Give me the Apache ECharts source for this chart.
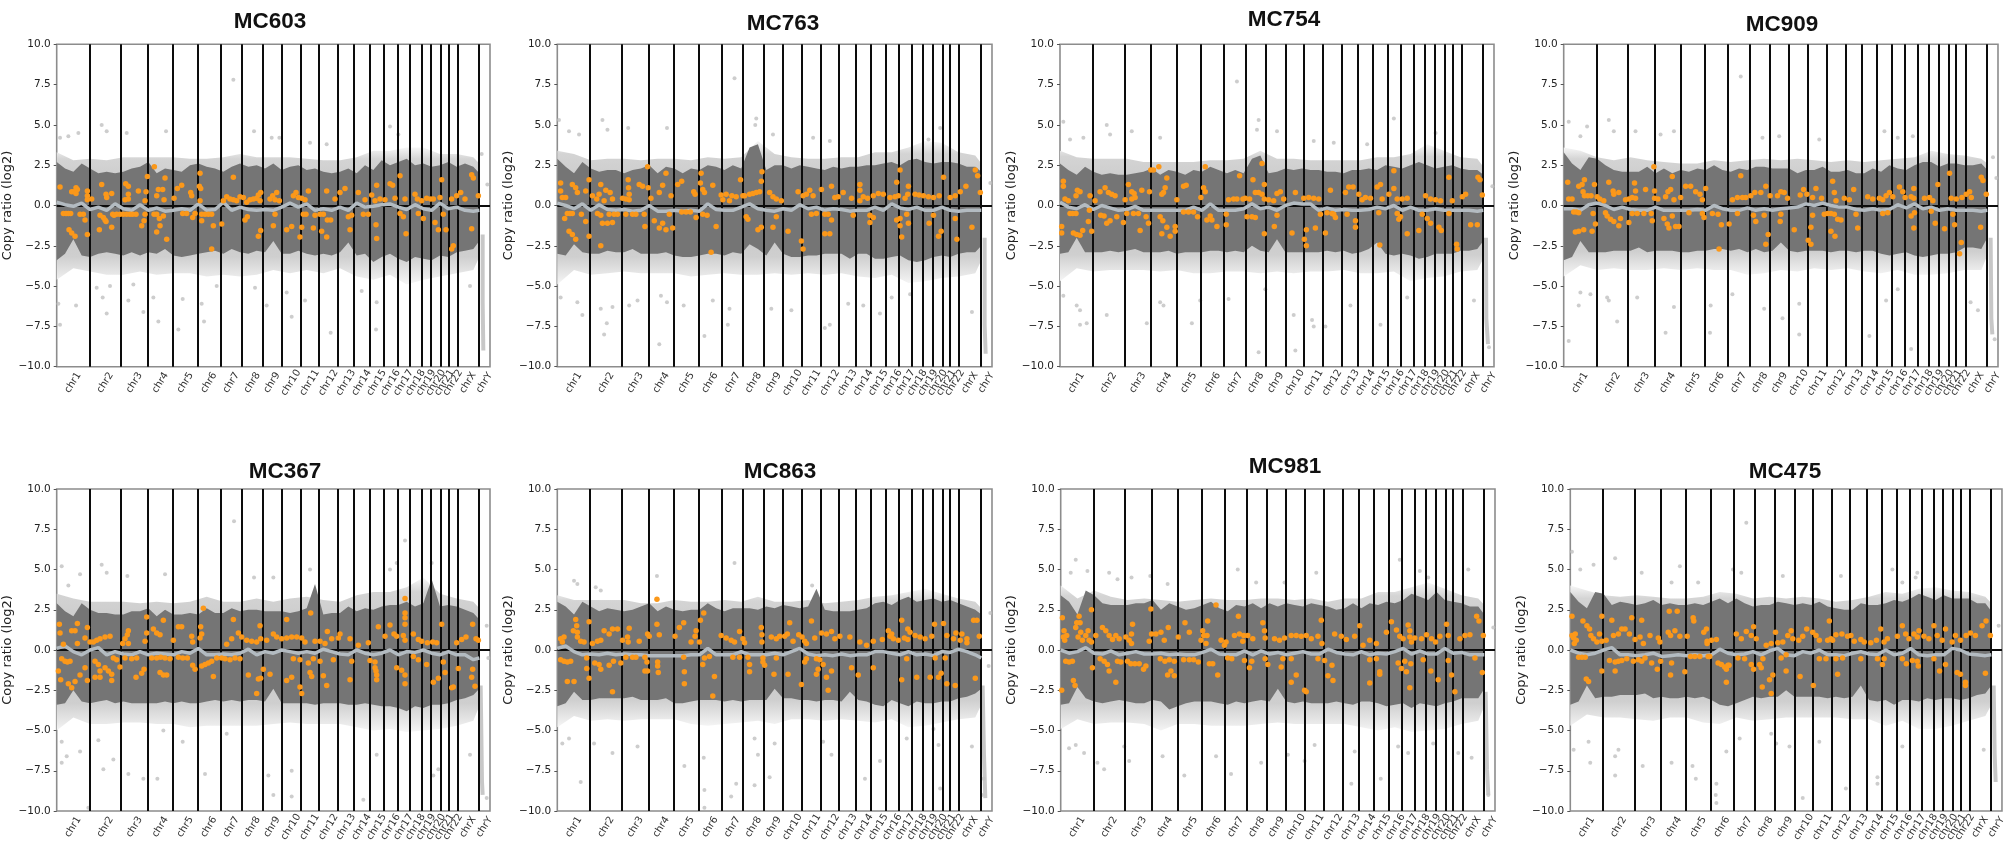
<!DOCTYPE html>
<html>
<head>
<meta charset="utf-8">
<title>Copy ratio panels</title>
<script src="https://cdn.jsdelivr.net/npm/echarts@6/dist/echarts.min.js"></script>
<style>
  html, body { margin: 0; background: #fff; }
  #chart { width: 2008px; height: 851px; filter: blur(0.45px); }
</style>
</head>
<body>
<div id="chart"></div>
<script>
// x axis is the squeezed genome position of the plots, 0..1300 across a panel
const chromNames = ['chr1','chr2','chr3','chr4','chr5','chr6','chr7','chr8','chr9','chr10','chr11','chr12','chr13','chr14','chr15','chr16','chr17','chr18','chr19','chr20','chr21','chr22','chrX','chrY']
const chromEnds = [98,193,273,349,422,491,556,617,675,731,787,843,892,938,982,1022,1059,1094,1123,1152,1175,1202,1266,1300]
const yTicks = [-10,-7.5,-5,-2.5,0,2.5,5,7.5,10]
// envelope sample positions
const binX = [0,25,50,75,100,125,150,175,200,225,250,275,300,325,350,375,400,425,450,475,500,525,550,575,600,625,650,675,700,725,750,775,800,825,850,875,900,925,950,975,1000,1025,1050,1075,1100,1125,1150,1175,1200,1225,1250,1268]
const haloX = [0,50,100,150,200,250,300,350,400,450,500,550,600,650,700,750,800,850,900,950,1000,1050,1100,1150,1200,1250,1268]

const mc603Upper = [2.7,2.3,2.1,2.6,2.3,2.0,2.1,2.0,2.1,2.3,2.4,2.7,2.0,2.3,2.2,2.1,2.5,2.6,2.4,2.3,2.1,2.4,2.6,2.4,2.5,2.3,2.6,2.2,2.4,2.5,2.2,2.3,2.1,2.0,2.1,2.3,2.0,2.5,2.2,2.8,2.5,2.7,2.9,2.5,2.6,2.4,2.5,2.7,2.4,2.6,2.4,2.0]
const mc603Lower = [-3.4,-3.0,-2.1,-3.1,-3.2,-3.0,-2.9,-3.0,-3.1,-2.9,-3.1,-2.9,-3.0,-2.7,-3.1,-3.2,-3.1,-3.0,-2.9,-2.8,-3.0,-2.7,-2.9,-3.0,-2.8,-2.9,-2.2,-3.0,-3.0,-2.8,-3.0,-3.1,-3.0,-3.1,-2.9,-2.3,-3.1,-3.0,-3.5,-3.2,-3.0,-3.3,-3.5,-3.2,-3.3,-3.4,-3.1,-3.2,-2.9,-2.8,-2.7,-2.2]
const mc603HaloUp = [3.3,2.8,2.9,2.8,3.0,3.0,3.0,3.0,2.9,2.9,3.0,3.2,3.0,3.0,3.0,2.9,2.8,2.8,3.0,3.4,3.4,3.6,3.6,3.2,3.2,3.0,2.6]
const mc603HaloLow = [-4.6,-3.9,-4.1,-4.3,-4.3,-4.1,-4.3,-4.2,-4.2,-4.4,-4.3,-4.4,-4.3,-4.0,-4.2,-4.0,-4.2,-3.9,-4.4,-4.6,-4.3,-4.9,-4.6,-4.4,-4.2,-4.0,-3.2]
const mc603Seg = [0.2,0.05,-0.05,0.15,-0.25,-0.1,-0.3,0.1,-0.2,-0.3,0.05,-0.3,-0.15,-0.35,-0.3,-0.2,-0.3,0.1,-0.3,-0.25,0.2,-0.3,-0.1,-0.25,-0.3,-0.25,-0.3,-0.1,0.15,-0.1,0.1,-0.3,-0.2,-0.3,-0.1,-0.3,0.15,-0.1,-0.05,0.05,0.1,-0.1,-0.25,0.05,-0.2,-0.3,0.15,-0.2,-0.1,-0.3,-0.35,-0.3]
const mc603Faint = [[35,4.3],[65,4.5],[10,4.2],[135,5.0],[150,4.6],[210,4.5],[328,4.6],[530,7.8],[592,4.6],[645,4.2],[668,4.2],[1000,4.9],[1025,4.4],[810,3.8],[760,3.9],[10,-7.4],[5,-6.1],[58,-6.2],[150,-6.7],[138,-5.7],[215,-5.9],[260,-6.6],[290,-5.7],[305,-7.2],[365,-7.7],[378,-5.8],[435,-6.1],[442,-7.2],[595,-5.1],[630,-6.2],[705,-6.9],[745,-5.9],[822,-7.9],[958,-7.7],[960,-6.0],[915,-5.3],[1240,-5.0],[1275,3.2],[1292,1.3],[120,-5.1],[160,-5.0],[230,-4.9],[480,-5.0],[690,-5.4]]
const mc603Orange = [[10,1.15],[20,-.5],[28,-.5],[35,-.5],[42,-.5],[37,-1.5],[45,-1.7],[55,-1.9],[45,.85],[52,.85],[58,.75],[62,1],[58,1.1],[70,-.55],[80,-.55],[85,-.9],[92,.9],[92,.6],[92,.35],[92,-1.8],[105,.4],[130,-.6],[135,1.3],[140,-.75],[145,-.9],[148,.7],[150,.5],[148,-1.0],[128,-1.5],[165,.75],[165,-1.35],[168,-.55],[172,-.6],[180,-.55],[190,-.55],[207,1.35],[215,1.2],[215,.7],[215,.4],[205,.35],[200,-.55],[210,-.55],[220,-.55],[228,-.55],[238,-.55],[245,.9],[255,-1.25],[262,-.95],[265,-.55],[268,.85],[272,1.8],[265,.3],[293,2.4],[300,.6],[305,1.0],[318,1.0],[325,1.7],[322,.35],[292,-.55],[300,-.55],[308,-.8],[320,-.65],[300,-1.65],[310,-1.25],[330,-2.1],[352,.45],[362,1.05],[375,1.25],[378,-.5],[390,-.5],[402,.8],[405,.6],[408,-.75],[415,-.5],[430,2.0],[428,1.2],[432,1.05],[430,.3],[435,-.55],[445,-.55],[435,-.95],[455,-.55],[465,-.55],[470,-1.25],[465,-2.7],[495,-1.15],[500,.3],[510,.55],[520,.4],[530,1.75],[530,.35],[540,.3],[550,.55],[560,.5],[570,.2],[580,.35],[590,.4],[600,.45],[605,.65],[612,.8],[610,.3],[565,-.9],[572,-.7],[605,-1.9],[612,-1.55],[640,.4],[648,.6],[655,.35],[660,.8],[668,.3],[655,-.55],[650,-1.25],[690,-1.5],[705,-1.3],[710,.6],[718,.8],[725,.5],[735,.45],[740,-.55],[748,-.55],[730,-1.95],[735,-1.35],[745,.35],[755,.9],[770,-1.4],[775,-.6],[790,-.55],[800,-.55],[812,-.9],[822,-.9],[795,-1.6],[810,-1.95],[810,.9],[835,.4],[850,.8],[865,1.05],[875,-.7],[885,-.6],[880,-1.5],[905,.8],[925,.35],[920,-.55],[935,-.55],[945,.65],[955,.3],[958,-1.2],[960,-2.05],[960,1.25],[970,.4],[985,.35],[1000,1.35],[1008,1.25],[1015,.45],[1030,1.85],[1030,-.5],[1045,.4],[1040,-.7],[1048,-1.75],[1075,.7],[1082,.4],[1095,.3],[1085,-.5],[1100,-.8],[1110,.45],[1122,.4],[1130,.4],[1135,-1.05],[1145,-1.5],[1155,1.6],[1150,.5],[1160,-.55],[1168,-1.5],[1185,-2.7],[1190,-2.5],[1185,.4],[1200,.6],[1212,.8],[1225,.4],[1245,1.9],[1250,1.7],[1245,-1.45],[1265,.6]]
const mc603Tail = [[1278,-1.8],[1278,-6.0],[1280,-9.0]]

const mc763Upper = [2.9,2.4,2.0,2.7,2.3,2.1,2.2,2.2,2.0,2.2,2.3,2.5,2.0,2.4,2.3,2.0,2.3,2.2,2.5,2.4,2.2,2.5,2.3,3.6,3.8,2.2,2.5,2.5,2.3,2.5,2.4,2.3,2.2,2.4,2.3,2.4,2.4,2.5,2.5,2.6,2.7,2.5,2.8,2.9,2.7,2.6,2.7,2.7,2.6,2.4,2.4,2.1]
const mc763Lower = [-3.0,-3.1,-2.4,-2.9,-3.0,-3.0,-2.8,-2.9,-2.9,-2.7,-3.0,-3.0,-3.0,-2.9,-3.1,-3.2,-3.2,-3.1,-3.0,-3.0,-3.1,-2.9,-3.0,-2.4,-2.7,-3.1,-2.3,-3.0,-3.2,-3.2,-3.1,-3.1,-3.0,-3.0,-3.0,-3.3,-3.0,-3.0,-3.3,-3.3,-3.2,-3.1,-3.4,-3.5,-3.4,-3.2,-3.1,-3.2,-3.0,-2.9,-2.9,-2.5]
const mc763HaloUp = [3.4,3.2,2.8,2.9,2.9,2.8,2.9,2.9,2.8,3.0,2.9,3.0,4.0,3.2,3.0,2.9,2.9,3.0,3.0,3.3,3.3,3.6,4.0,3.9,3.3,3.1,2.6]
const mc763HaloLow = [-4.9,-4.0,-4.3,-4.2,-4.1,-4.2,-4.2,-4.2,-4.4,-4.3,-4.2,-4.3,-4.3,-4.2,-4.3,-4.2,-4.3,-4.2,-4.4,-4.5,-4.3,-4.8,-4.7,-4.5,-4.4,-4.2,-3.4]
const mc763Seg = [0.15,0.0,-0.2,0.1,-0.3,0.05,-0.25,-0.3,-0.25,-0.35,-0.3,0.0,-0.35,-0.35,-0.3,-0.35,-0.3,-0.35,0.1,-0.25,-0.3,-0.3,-0.1,0.1,-0.2,-0.3,-0.35,-0.2,-0.3,0.05,-0.2,-0.1,-0.3,-0.2,-0.25,-0.35,-0.3,-0.3,-0.1,-0.3,0.1,-0.15,-0.25,-0.1,-0.3,-0.3,-0.1,-0.3,-0.35,-0.3,-0.3,-0.3]
const mc763Faint = [[5,5.3],[35,4.6],[65,4.4],[135,5.3],[150,4.7],[212,4.8],[328,4.8],[530,7.9],[595,5.4],[592,5.0],[645,4.4],[765,4.2],[815,4.0],[1145,4.8],[1110,4.1],[10,-5.7],[60,-6.0],[75,-6.8],[130,-6.4],[148,-7.3],[140,-8.0],[165,-6.3],[215,-6.2],[240,-5.9],[305,-8.6],[310,-5.6],[328,-6.0],[378,-6.2],[440,-8.1],[465,-5.9],[515,-6.4],[510,-7.4],[640,-6.4],[700,-6.5],[815,-7.4],[800,-7.6],[915,-6.2],[870,-6.1],[965,-6.7],[1000,-5.7],[1240,-6.6],[1055,-5.5],[1295,1.4]]
const mc763Orange = [[10,1.4],[10,.9],[15,.5],[25,.5],[30,-.5],[38,-.5],[45,-.5],[22,-.8],[35,-1.6],[45,-1.8],[55,-2.1],[45,1.3],[55,1.1],[60,.8],[72,-.55],[85,.9],[85,-1],[95,1.6],[95,-1.9],[105,.6],[118,.4],[125,.7],[130,1.3],[120,-.5],[130,-.6],[140,.3],[145,.95],[158,.8],[165,.4],[135,-1.1],[150,-1.1],[165,-1.05],[155,-.55],[170,-.55],[130,-2.5],[180,-.55],[195,.45],[205,.4],[212,1.6],[213,1.1],[215,.7],[215,.35],[205,-.55],[225,-.55],[235,-.55],[245,1.3],[255,1.2],[260,-.55],[262,-1.3],[270,2.4],[272,1.1],[280,.45],[305,.8],[315,1.25],[325,2.0],[290,-.95],[305,-1.4],[315,-1.1],[325,-1.5],[335,-.55],[345,-1.4],[340,.6],[360,1.3],[372,1.5],[372,-.4],[385,-.4],[398,-.4],[408,.85],[412,.7],[415,-.75],[430,2.0],[428,1.4],[435,1.0],[440,.8],[435,-.55],[448,-.6],[460,-2.9],[475,-1.3],[465,1.25],[490,.65],[495,.35],[505,.7],[515,.3],[522,.6],[535,.55],[548,1.6],[555,.6],[560,.6],[575,.7],[585,.75],[595,.8],[605,.85],[610,1.5],[612,2.1],[565,-.7],[570,-.85],[600,-1.5],[610,-1.35],[635,.8],[645,.55],[655,.4],[670,.3],[655,-.7],[645,-1.35],[690,-1.6],[720,.85],[735,.6],[745,.7],[755,.95],[765,.6],[730,-2.2],[735,-2.7],[760,-.55],[775,-.5],[790,1.0],[820,1.2],[830,.5],[800,-.55],[810,-.55],[820,-.9],[800,-1.75],[815,-1.75],[840,.55],[855,.8],[880,.45],[885,-.6],[905,.3],[905,1.3],[905,.95],[915,.55],[928,.45],[945,.6],[935,-.6],[945,-.75],[935,-1.05],[960,.75],[975,.7],[995,.5],[1010,.55],[1020,.6],[1025,2.2],[1015,1.45],[1015,-.9],[1025,-1.25],[1030,-1.95],[1025,-.8],[1040,.45],[1050,1.2],[1048,.7],[1045,-.55],[1050,-1.1],[1070,.7],[1082,.65],[1095,.6],[1110,.55],[1125,.5],[1142,.6],[1155,1.75],[1125,-.6],[1112,-1.1],[1148,-1.6],[1140,-1.9],[1175,.5],[1190,.6],[1205,.85],[1222,1.2],[1250,2.2],[1257,1.85],[1265,.8],[1190,-.8],[1195,-2.1],[1240,-1.35]]
const mc763Tail = [[1278,-2.0],[1278,-7.4],[1281,-9.2]]

const mc754Upper = [2.6,2.2,1.9,2.4,2.1,1.9,2.0,1.9,1.9,2.0,2.1,2.3,1.9,2.2,2.1,1.9,2.2,2.1,2.4,2.2,2.0,2.2,2.0,2.9,3.1,2.0,2.1,2.3,2.2,2.3,2.2,2.2,2.1,2.1,2.0,2.2,2.2,2.3,2.2,2.5,2.4,2.3,2.5,2.7,2.5,2.3,2.4,2.5,2.3,2.2,2.2,1.9]
const mc754Lower = [-3.0,-2.9,-2.0,-2.9,-2.9,-2.9,-2.8,-2.9,-2.8,-2.7,-2.9,-2.9,-2.9,-2.8,-3.0,-2.9,-2.9,-2.9,-2.8,-2.8,-2.9,-2.8,-2.9,-2.5,-2.8,-2.9,-2.1,-2.9,-2.9,-2.9,-2.9,-2.9,-2.8,-2.9,-2.8,-3.0,-2.9,-2.7,-2.3,-3.0,-3.1,-3.0,-3.1,-3.3,-3.2,-3.0,-3.0,-3.0,-2.8,-2.8,-2.7,-2.2]
const mc754HaloUp = [3.4,3.0,2.9,2.9,2.9,2.7,2.7,2.7,2.7,2.8,2.8,2.9,3.4,2.9,2.9,2.8,2.8,2.8,2.8,3.0,3.0,3.2,3.8,3.4,3.0,2.9,2.4]
const mc754HaloLow = [-4.7,-3.9,-4.1,-4.0,-4.0,-4.0,-4.1,-4.0,-4.2,-4.2,-4.1,-4.1,-4.2,-4.1,-4.2,-4.1,-4.1,-4.0,-4.2,-4.2,-4.1,-4.7,-4.5,-4.4,-4.1,-4.0,-3.3]
const mc754Seg = [0.2,-0.1,-0.2,0.05,-0.25,0.0,-0.15,-0.3,-0.25,-0.05,-0.3,-0.3,-0.3,-0.3,-0.3,-0.3,-0.1,-0.3,0.1,-0.3,-0.3,-0.3,-0.2,0.1,-0.2,-0.1,-0.3,0.0,0.15,0.1,0.1,-0.3,-0.15,-0.3,-0.25,-0.3,-0.3,-0.25,-0.1,-0.2,0.0,-0.3,-0.1,-0.3,-0.3,-0.2,-0.3,-0.3,-0.3,-0.3,-0.35,-0.3]
const mc754Faint = [[10,5.2],[30,4.1],[70,4.2],[140,5.0],[150,4.4],[215,4.6],[300,4.2],[530,7.7],[595,5.3],[590,4.7],[650,4.6],[1000,5.4],[1125,4.5],[760,4.0],[920,3.8],[820,3.9],[10,-5.6],[60,-6.5],[50,-6.2],[80,-7.3],[60,-7.4],[140,-6.8],[260,-7.3],[300,-6.0],[310,-6.2],[395,-7.3],[420,-5.9],[505,-5.8],[595,-9.1],[615,-5.2],[700,-6.8],[705,-9.0],[755,-7.1],[760,-7.5],[795,-7.5],[870,-6.2],[960,-7.4],[1040,-5.7],[1240,-5.9],[1285,-8.8],[1295,1.2]]
const mc754Orange = [[5,-1.3],[5,-1.7],[10,1.5],[10,1.2],[15,.4],[25,.3],[30,-.5],[38,-.5],[48,-.5],[40,-1.7],[50,-1.8],[60,-1.85],[68,-1.55],[52,.95],[60,.85],[48,.6],[85,-1.0],[88,-.3],[90,.6],[95,-1.6],[105,.3],[120,.85],[135,1.1],[145,.8],[155,.7],[165,.6],[122,-.6],[132,-.65],[140,-1.1],[150,-.95],[170,-.7],[190,-1.05],[195,.35],[205,1.3],[215,.85],[222,.75],[225,.5],[215,.4],[200,-.5],[220,-.5],[235,-.5],[245,.95],[240,-1.55],[258,-.7],[265,-1.1],[268,.85],[272,2.2],[280,2.2],[296,2.4],[305,.7],[315,1.1],[310,.8],[320,1.7],[300,-.7],[308,-.95],[305,-1.75],[320,-1.35],[330,-1.9],[345,-1.6],[345,-1.3],[350,.35],[370,1.2],[378,1.25],[370,-.4],[385,-.4],[400,-.4],[412,-.7],[422,.5],[430,1.1],[435,.85],[435,2.4],[440,-.9],[455,-.9],[450,-.65],[470,-1.3],[498,-.55],[498,-1.2],[505,.35],[520,.4],[530,.4],[538,1.85],[548,.4],[555,.45],[568,.4],[578,1.6],[585,.8],[595,.8],[605,.7],[612,1.3],[605,2.6],[612,.4],[560,-.7],[575,-.7],[585,-.75],[612,-1.75],[625,.35],[640,.3],[650,.75],[660,.85],[670,.4],[650,-.6],[642,-1.3],[695,-1.7],[705,.8],[730,.45],[745,.5],[760,.45],[775,.4],[732,-2.1],[738,-2.5],[738,-1.5],[765,-1.4],[780,-.55],[795,-1.7],[800,-.45],[815,-.5],[825,-.75],[810,.95],[820,-.55],[855,.8],[865,1.15],[878,1.15],[895,.7],[860,-.55],[885,-.95],[885,-1.35],[905,.35],[915,.5],[930,.45],[950,1.15],[960,1.3],[965,.4],[955,-.45],[958,-2.45],[985,.7],[1000,2.15],[1000,1.05],[1010,.4],[1025,.4],[1040,.45],[1010,-.5],[1015,-.85],[1040,-1.75],[1020,-.7],[1075,-1.55],[1095,.6],[1110,.4],[1125,.35],[1140,.3],[1085,-.55],[1100,-.8],[1110,-1.1],[1135,-1.35],[1142,-1.55],[1165,1.75],[1165,-.5],[1175,.3],[1190,-2.7],[1188,-2.4],[1205,.55],[1215,.7],[1230,-1.2],[1252,1.75],[1258,1.6],[1265,.65],[1250,-1.2]]
const mc754Tail = [[1276,-2.0],[1277,-7.0],[1282,-8.6]]

const mc909Upper = [3.3,2.6,2.2,3.0,2.9,2.5,2.2,2.1,2.1,2.1,2.4,2.0,2.3,2.0,2.2,2.1,2.3,2.2,2.5,2.2,2.1,2.3,2.2,2.4,2.4,2.3,2.3,2.3,2.0,2.2,2.2,2.4,2.1,2.1,2.2,2.0,2.0,2.3,2.1,2.5,2.3,2.2,2.5,2.7,2.7,2.4,2.6,2.6,2.5,2.5,2.6,2.2]
const mc909Lower = [-3.4,-3.2,-2.2,-2.9,-2.9,-2.9,-2.8,-2.8,-2.8,-2.6,-2.9,-2.8,-2.8,-2.8,-2.9,-2.9,-2.8,-2.8,-2.7,-2.7,-2.8,-2.7,-2.9,-2.7,-2.9,-2.8,-2.3,-2.8,-2.9,-2.8,-2.8,-2.8,-2.9,-2.8,-2.8,-2.9,-2.8,-2.8,-3.0,-3.1,-3.0,-2.9,-3.1,-3.2,-3.1,-3.0,-3.0,-2.9,-2.6,-2.6,-2.7,-2.0]
const mc909HaloUp = [3.6,3.4,3.0,2.8,3.0,2.8,2.7,2.6,2.6,2.8,2.7,2.8,2.9,2.8,2.9,2.8,2.7,2.8,2.7,2.8,2.9,3.0,3.4,3.2,3.1,2.9,2.6]
const mc909HaloLow = [-4.4,-3.7,-4.0,-3.9,-4.0,-4.0,-3.9,-4.0,-3.9,-4.0,-4.0,-4.3,-4.2,-4.0,-4.1,-3.9,-4.0,-3.9,-4.1,-4.2,-4.0,-4.3,-4.3,-4.2,-4.0,-4.0,-3.1]
const mc909Seg = [-0.2,-0.2,-0.3,0.05,0.15,0.0,-0.25,-0.1,-0.25,-0.3,-0.3,-0.1,-0.3,-0.3,-0.3,-0.3,-0.25,-0.3,0.0,-0.2,-0.3,-0.3,-0.15,-0.3,-0.2,-0.3,-0.2,-0.15,-0.1,0.1,0.0,0.15,0.0,-0.1,-0.1,-0.25,-0.3,-0.2,-0.3,-0.25,0.05,-0.15,0.1,-0.2,-0.1,-0.3,-0.2,-0.3,-0.3,-0.3,-0.35,-0.3]
const mc909Faint = [[15,5.2],[50,4.3],[70,4.9],[135,5.3],[150,4.6],[215,4.6],[290,4.4],[330,4.6],[530,8.0],[595,4.2],[645,4.3],[1000,4.2],[960,4.6],[1045,4.3],[765,4.1],[15,-8.4],[45,-6.2],[50,-5.4],[80,-5.5],[135,-5.9],[130,-5.7],[160,-7.2],[220,-5.7],[305,-7.9],[330,-6.3],[438,-7.9],[440,-6.2],[505,-5.5],[600,-6.4],[655,-7.0],[705,-6.1],[705,-8.0],[915,-8.1],[965,-5.9],[1040,-8.9],[1240,-6.5],[1218,-6.0],[1290,-8.3],[1295,1.7],[1285,3.0],[1000,-5.2]]
const mc909Orange = [[12,1.45],[15,.4],[25,.4],[30,-.4],[38,-.4],[45,-.45],[35,-1.65],[45,-1.6],[60,-1.5],[45,1.2],[55,1.3],[62,1.6],[58,.85],[62,.6],[72,.6],[82,.6],[88,-.5],[92,1.3],[95,-1.15],[85,-1.6],[100,.55],[108,.4],[120,.3],[125,-.45],[130,-.65],[135,1.45],[148,.9],[150,.7],[165,.8],[140,-.85],[150,-1.0],[165,-1.25],[170,-.8],[185,.35],[195,.4],[205,.5],[212,1.4],[215,.9],[215,.45],[195,-1.05],[205,-.5],[220,-.5],[240,-.5],[245,1.0],[262,-.5],[265,-.95],[270,2.4],[272,.9],[272,.45],[282,.4],[305,.55],[312,.85],[320,1.0],[330,.35],[325,1.8],[300,-.8],[310,-1.15],[315,-1.4],[325,-.65],[335,-1.3],[345,-1.3],[350,.5],[365,1.2],[380,1.2],[375,-.45],[395,.85],[408,.7],[415,.35],[425,1.05],[420,-.75],[415,-.5],[445,-.5],[462,-.55],[472,-1.2],[465,-2.7],[495,-1.15],[505,.35],[520,.5],[530,1.85],[535,.5],[545,.5],[520,-.5],[560,.6],[572,.8],[590,.8],[605,1.2],[618,.6],[568,-.6],[575,-1.0],[600,-.6],[612,-1.8],[605,-2.4],[640,.6],[650,.85],[660,.8],[670,.45],[650,-.55],[648,-1.0],[690,-1.5],[708,.65],[718,1.0],[728,.7],[745,.5],[755,1.05],[772,.45],[732,-2.15],[740,-2.4],[740,-1.35],[745,-.6],[780,-.55],[790,-.5],[800,-1.6],[805,1.5],[810,.8],[815,.3],[800,-.5],[810,-.55],[820,-.85],[830,-.9],[812,-1.9],[840,.45],[855,.35],[875,-.55],[868,1.0],[880,-1.4],[910,.55],[925,.4],[945,.45],[955,.35],[955,-.5],[970,-.45],[965,.6],[975,.8],[985,.55],[1005,1.15],[1015,.85],[1022,.5],[1040,.55],[1048,1.05],[1048,.45],[1040,-.65],[1050,-.45],[1048,-1.4],[1080,.45],[1095,.5],[1105,.3],[1120,1.3],[1100,-.35],[1112,-1.1],[1140,-1.45],[1155,2.0],[1160,.45],[1175,.4],[1190,-2.3],[1185,-3.0],[1192,.5],[1205,.7],[1215,.85],[1220,.5],[1250,1.75],[1255,1.55],[1265,.7],[1248,-1.35],[1165,-.55],[1170,-1.2]]
const mc909Tail = [[1278,-2.0],[1280,-7.0],[1283,-8.0]]

const mc367Upper = [2.9,2.4,2.1,2.9,2.5,2.3,2.3,2.2,2.2,2.4,2.4,2.6,2.1,2.5,2.2,2.2,2.3,2.2,2.6,2.3,2.3,2.6,2.4,2.5,2.5,2.4,2.4,2.4,2.3,2.4,2.6,4.1,2.2,2.3,2.3,2.7,2.4,2.6,2.5,2.7,2.8,2.8,3.0,2.7,2.9,4.4,2.7,2.8,2.7,2.5,2.3,1.9]
const mc367Lower = [-3.4,-3.3,-2.5,-3.2,-3.3,-3.2,-3.1,-3.3,-3.2,-3.3,-3.3,-3.3,-3.3,-3.2,-3.3,-3.2,-3.3,-3.3,-3.2,-3.1,-3.2,-3.1,-3.2,-3.1,-3.1,-3.2,-2.4,-3.3,-3.3,-3.3,-3.3,-3.4,-3.3,-3.3,-3.3,-3.4,-3.4,-3.3,-3.4,-3.5,-3.5,-3.6,-3.8,-3.5,-3.6,-3.4,-3.4,-3.3,-3.1,-3.0,-2.8,-2.4]
const mc367HaloUp = [3.5,3.2,3.0,3.0,3.0,2.9,3.0,2.9,3.0,3.3,3.0,3.0,3.2,3.0,3.2,3.3,3.1,3.0,3.4,3.6,3.6,3.9,4.5,3.5,3.2,3.0,2.6]
const mc367HaloLow = [-5.0,-4.2,-4.6,-4.6,-4.5,-4.5,-4.6,-4.6,-4.8,-4.7,-4.7,-4.7,-4.7,-4.6,-4.5,-4.6,-4.6,-4.6,-4.8,-5.0,-4.9,-5.1,-5.0,-4.9,-4.7,-4.4,-3.5]
const mc367Seg = [0.1,0.25,-0.1,-0.3,0.0,0.15,-0.3,-0.1,-0.25,-0.3,-0.1,-0.3,-0.2,-0.25,-0.3,-0.1,-0.2,0.1,-0.3,-0.3,-0.25,-0.3,-0.2,0.05,-0.3,-0.1,-0.2,0.0,-0.1,-0.2,-0.1,-0.2,0.05,-0.1,-0.25,-0.3,0.0,-0.2,-0.3,-0.2,0.0,-0.3,-0.1,-0.15,0.0,-0.2,-0.3,-0.1,-0.3,-0.3,-0.6,-0.5]
const mc367Faint = [[15,5.2],[35,4.0],[70,4.7],[135,5.3],[150,4.8],[212,4.6],[325,4.7],[532,8.0],[592,4.5],[650,4.5],[760,5.0],[1045,6.8],[1000,5.0],[1020,5.4],[1125,5.4],[15,-5.7],[30,-6.6],[70,-6.3],[15,-7.0],[95,-9.8],[140,-7.4],[125,-5.6],[170,-6.8],[215,-7.7],[260,-8.0],[302,-8.0],[378,-5.7],[445,-7.7],[650,-9.0],[705,-9.1],[635,-7.8],[705,-7.5],[920,-9.3],[960,-6.5],[1130,-7.8],[1240,-6.5],[1145,-7.4],[1290,-9.2],[1290,1.5],[1295,-.5],[320,-5.0],[510,-5.2]]
const mc367Orange = [[8,1.6],[10,1.05],[20,.35],[5,-1.3],[12,-1.85],[15,-.55],[25,-.7],[32,-.75],[40,-.7],[35,-2.1],[45,-2.35],[55,-1.95],[70,-1.55],[45,1.2],[55,1.2],[62,1.65],[62,.4],[85,.75],[85,-1.1],[92,1.4],[92,-1.9],[100,.5],[110,.5],[120,.6],[130,.7],[145,.8],[160,.85],[115,-.7],[125,-.9],[130,-1.3],[145,-1.1],[115,-1.7],[130,-1.7],[155,-1.3],[165,-1.5],[165,-1.9],[170,-.5],[180,-.6],[190,-1.05],[198,.4],[205,.7],[212,.95],[215,1.2],[215,.4],[205,-.5],[225,-.55],[240,-.5],[238,-1.7],[255,-1.45],[262,-1.2],[265,.55],[270,1.05],[270,2.05],[290,1.3],[300,1.05],[310,.95],[320,1.85],[285,-.5],[300,-.5],[312,-.45],[325,-.5],[340,-.55],[310,-1.4],[320,-1.55],[330,-1.55],[350,.6],[365,1.45],[375,1.45],[365,-.45],[378,-.5],[392,-.5],[405,.85],[408,.5],[408,-.95],[415,-1.2],[432,1.45],[435,1.0],[440,2.6],[430,.75],[435,-1.0],[445,-.9],[455,-.8],[465,-.7],[470,-1.65],[480,-.5],[495,-.5],[510,.35],[525,.7],[530,1.9],[545,1.05],[555,.8],[505,-.55],[520,-.6],[535,-.5],[550,-.55],[575,-1.55],[570,.6],[585,.55],[600,.5],[610,1.5],[612,.7],[605,-1.8],[612,-1.75],[600,-2.7],[620,-1.2],[630,.6],[650,1.0],[640,-1.5],[660,.8],[675,.7],[690,1.9],[690,.75],[705,.8],[720,.8],[735,.75],[730,-2.3],[735,-2.7],[690,-1.9],[705,-1.7],[710,-.55],[730,-.6],[745,.5],[762,2.3],[760,-1.4],[755,-.8],[765,-1.65],[775,.55],[790,.55],[805,.4],[812,1.15],[825,.7],[845,.75],[770,-.55],[790,-.7],[810,-2.2],[800,-1.6],[830,-.6],[850,1.0],[880,.7],[885,-.7],[880,-1.85],[905,.3],[935,.45],[940,-.65],[955,-.75],[958,-1.3],[960,-1.55],[960,-1.85],[955,-1.1],[965,1.45],[985,.85],[1000,1.55],[1012,1.0],[1020,.85],[1040,.9],[1045,2.3],[1045,2.0],[1045,1.6],[1045,3.2],[1045,.6],[1020,-1.1],[1035,-1.25],[1045,-1.55],[1045,-2.1],[1070,1.0],[1085,.65],[1095,.55],[1112,.45],[1128,.5],[1140,.45],[1155,1.6],[1070,-.4],[1085,-.6],[1110,-.9],[1130,-2.0],[1145,-1.75],[1160,-.75],[1165,-1.4],[1185,-2.35],[1190,-2.3],[1200,.45],[1215,.65],[1228,.8],[1248,1.6],[1258,.7],[1265,.6],[1205,-1.15],[1245,-1.7],[1255,-2.25],[1248,-1.2]]
const mc367Tail = [[1272,-2.2],[1276,-8.2],[1278,-9.0]]

const mc863Upper = [3.0,2.7,2.2,3.0,2.7,2.4,2.6,2.5,2.4,2.5,2.7,2.9,2.4,2.7,2.5,2.4,2.5,2.5,2.9,2.6,2.4,2.6,2.6,2.6,2.5,2.7,2.6,2.8,2.7,2.6,2.7,3.8,2.5,2.4,2.4,2.4,2.5,2.6,2.9,3.0,2.8,3.1,3.3,3.0,3.1,3.2,3.0,3.1,2.9,2.7,2.5,2.2]
const mc863Lower = [-3.5,-3.3,-2.6,-3.1,-3.1,-3.0,-3.0,-3.0,-3.0,-2.9,-3.1,-3.1,-3.1,-3.0,-3.3,-3.3,-3.2,-3.1,-3.1,-3.1,-3.2,-3.1,-3.2,-3.1,-3.1,-3.1,-2.4,-3.0,-3.0,-3.1,-3.1,-3.2,-3.1,-3.1,-3.2,-2.6,-3.1,-3.2,-3.4,-3.5,-3.1,-3.3,-3.5,-3.2,-3.3,-3.3,-3.2,-3.2,-3.0,-2.9,-2.7,-2.4]
const mc863HaloUp = [3.4,3.1,3.1,3.1,3.1,2.9,2.9,3.1,3.0,3.0,3.1,3.0,3.3,3.0,3.0,3.1,2.9,3.0,3.1,3.3,3.4,3.6,3.8,3.5,3.2,3.0,2.6]
const mc863HaloLow = [-4.8,-4.1,-4.4,-4.3,-4.4,-4.3,-4.3,-4.3,-4.6,-4.7,-4.6,-4.5,-4.4,-4.6,-4.3,-4.3,-4.4,-4.3,-4.4,-4.5,-4.3,-4.8,-4.7,-4.5,-4.3,-4.2,-3.4]
const mc863Seg = [0.1,0.25,-0.1,-0.3,-0.25,-0.3,-0.2,-0.3,-0.25,-0.3,-0.3,-0.35,-0.35,-0.35,-0.35,-0.35,-0.3,-0.3,0.1,-0.3,-0.3,-0.3,-0.1,-0.3,-0.3,-0.3,-0.2,-0.3,-0.1,0.1,-0.25,-0.35,-0.3,-0.35,-0.25,-0.35,-0.3,-0.3,-0.1,-0.1,-0.2,-0.3,-0.1,-0.3,-0.25,-0.35,-0.1,-0.15,0.05,-0.1,-0.3,-0.5]
const mc863Faint = [[50,4.3],[60,4.1],[115,3.9],[130,3.7],[298,4.6],[530,5.4],[762,4.0],[15,-5.8],[35,-5.5],[70,-8.2],[110,-5.8],[165,-6.4],[240,-6.0],[380,-7.2],[440,-8.7],[440,-9.8],[438,-6.7],[520,-9.1],[535,-8.3],[590,-8.4],[635,-7.9],[600,-6.5],[590,-5.5],[820,-6.5],[795,-5.7],[965,-6.9],[1045,-5.5],[1240,-6.0],[1140,-5.9],[1125,-4.9],[1275,-8.0],[1270,-9.0],[1295,2.3],[1290,-1.0],[650,-5.8],[1145,-8.6],[920,-8.0]]
const mc863Orange = [[10,.7],[15,.5],[20,.8],[10,-.6],[20,-.7],[30,-.75],[40,-.7],[30,-1.95],[50,-1.95],[55,1.9],[48,1.2],[58,1.5],[60,1.1],[60,.8],[70,.55],[80,.5],[88,-1.15],[88,-.5],[95,1.75],[95,-1.75],[105,.4],[120,.55],[130,.6],[140,1.2],[155,1.0],[165,1.3],[180,1.3],[112,-.8],[125,-.9],[130,-1.2],[155,-.95],[168,-.7],[165,-2.6],[190,-.8],[195,.6],[210,.8],[215,1.35],[212,.5],[205,-.45],[225,-.45],[235,-.45],[245,.55],[262,-.45],[262,-1.3],[268,-.75],[270,1.0],[275,.85],[270,-1.3],[298,3.15],[305,.95],[298,1.6],[300,-.75],[300,-1.0],[302,-1.4],[352,.85],[365,1.4],[378,1.7],[378,-.45],[380,-1.35],[380,-2.1],[400,.5],[412,.85],[415,1.2],[428,1.85],[425,.5],[438,2.3],[440,-.5],[435,-.9],[455,-.4],[470,-1.65],[465,-2.85],[490,.9],[505,.75],[520,.6],[530,.5],[545,1.15],[555,.7],[560,.45],[525,-.45],[545,-.45],[570,-.45],[575,-.9],[575,-1.35],[610,1.4],[612,.95],[612,.5],[615,-.5],[615,-.75],[620,-.95],[640,.8],[648,-1.5],[655,.7],[665,.85],[680,.85],[695,1.7],[705,.55],[688,1.0],[655,-.5],[690,-1.5],[722,.95],[732,.8],[740,.55],[745,.4],[730,-2.15],[740,-.75],[745,-.55],[760,1.8],[770,.75],[775,-.55],[785,-.6],[795,-.9],[790,1.05],[805,1.0],[820,1.15],[780,-1.2],[775,-1.5],[810,-2.5],[805,-1.7],[820,-1.3],[830,.7],[845,.85],[875,.8],[880,-1.1],[905,.5],[900,-1.55],[925,.3],[945,.55],[945,-1.1],[972,.65],[995,.85],[1005,.7],[1020,.6],[1038,.75],[1048,.65],[1048,1.3],[1030,1.85],[1045,-.55],[1030,-1.85],[1000,1.0],[990,1.2],[1055,1.1],[1070,.9],[1085,.8],[1100,.7],[1120,.85],[1128,1.6],[1130,-.5],[1115,-1.7],[1140,-1.7],[1148,-1.45],[1155,1.65],[1160,-.5],[1165,.9],[1165,-2.1],[1190,-2.2],[1185,.7],[1192,1.05],[1205,.6],[1210,1.0],[1225,.7],[1245,1.85],[1255,1.85],[1262,.85],[1225,.45],[1250,-1.75],[1075,-1.7]]
const mc863Tail = [[1272,-2.2],[1276,-6.5],[1280,-9.2]]

const mc981Upper = [3.4,3.0,2.2,3.7,3.4,2.9,2.8,2.8,2.8,2.9,2.9,3.1,2.5,2.9,2.7,2.5,2.6,2.8,3.0,2.6,2.4,2.8,2.7,2.9,2.6,2.9,2.7,2.9,2.8,2.7,2.9,2.8,2.7,2.5,2.6,2.9,2.6,2.9,2.8,3.0,2.9,3.1,3.5,3.3,3.1,3.6,3.1,3.0,2.9,2.7,2.7,2.2]
const mc981Lower = [-3.4,-3.3,-2.3,-3.0,-3.2,-3.3,-3.2,-3.1,-3.2,-3.3,-3.3,-3.1,-3.2,-3.7,-3.5,-3.3,-3.2,-3.2,-3.2,-3.3,-3.4,-3.2,-3.3,-3.2,-3.1,-3.2,-2.4,-3.2,-3.3,-3.2,-3.3,-3.3,-3.3,-3.2,-3.3,-3.4,-3.2,-3.2,-3.3,-3.5,-3.4,-3.3,-3.6,-3.3,-3.4,-3.5,-3.3,-3.2,-3.0,-3.0,-3.0,-2.4]
const mc981HaloUp = [4.0,3.2,3.7,3.3,3.1,3.2,3.1,3.0,3.1,3.2,3.1,3.1,3.2,3.2,3.1,3.2,3.0,3.2,3.2,3.6,3.6,3.9,4.2,3.8,3.4,3.2,2.8]
const mc981HaloLow = [-4.9,-4.3,-4.6,-4.5,-4.5,-4.6,-5.0,-4.6,-4.6,-4.7,-4.7,-4.7,-4.6,-4.5,-4.6,-4.6,-4.6,-4.6,-4.8,-5.0,-4.8,-5.1,-5.0,-4.9,-4.6,-4.4,-3.5]
const mc981Seg = [0.0,-0.2,-0.1,0.15,-0.2,-0.25,-0.05,-0.3,-0.2,-0.1,-0.25,-0.25,-0.2,-0.3,-0.25,-0.3,-0.3,-0.15,0.05,-0.25,-0.3,-0.3,-0.05,-0.3,-0.05,-0.25,-0.15,-0.3,-0.2,-0.1,-0.25,-0.25,0.05,-0.15,-0.25,-0.3,-0.1,-0.3,-0.2,-0.25,-0.1,0.1,-0.25,-0.05,-0.25,-0.25,0.1,-0.2,-0.15,-0.3,-0.3,-0.3]
const mc981Faint = [[45,5.6],[30,4.8],[80,4.9],[145,4.8],[170,4.4],[212,4.5],[268,4.6],[320,4.1],[530,5.0],[585,4.2],[765,4.8],[670,4.2],[1015,5.6],[1075,4.9],[1100,4.5],[1220,5.0],[25,-6.1],[45,-5.9],[70,-6.4],[110,-7.0],[130,-7.4],[190,-6.0],[205,-6.9],[305,-6.6],[370,-7.8],[465,-6.6],[510,-7.7],[600,-7.0],[680,-6.5],[730,-6.9],[760,-5.9],[880,-6.3],[870,-8.3],[958,-8.0],[1010,-6.0],[1040,-6.4],[1115,-5.8],[1190,-6.4],[1230,-6.7],[1280,-9.0],[1295,1.4]]
const mc981Orange = [[3,-2.5],[5,2.0],[10,1.2],[8,.8],[12,.6],[18,.9],[15,-.7],[25,-.75],[35,-.7],[38,-1.9],[43,-2.2],[48,1.7],[45,1.4],[55,2.1],[58,1.7],[60,1.1],[52,.8],[65,.6],[75,.9],[82,1.2],[85,.6],[92,2.5],[92,.5],[95,-1.1],[105,.9],[125,1.4],[135,1.2],[145,.9],[155,.65],[165,.9],[175,.7],[118,-.55],[130,-.7],[140,-.9],[145,-1.3],[165,-2.0],[170,-.7],[180,-.75],[195,.8],[205,.6],[212,1.0],[215,1.6],[212,.4],[200,-.7],[210,-.85],[222,-.85],[235,-.85],[248,-1.2],[255,-1.0],[265,.55],[272,1.0],[270,2.55],[285,1.0],[300,1.1],[310,.6],[322,1.4],[298,-.55],[312,-.7],[325,-.6],[340,-.7],[320,-1.55],[330,-1.3],[340,-1.6],[352,.8],[372,1.7],[385,1.1],[368,-.6],[385,-.6],[398,-.6],[412,-.75],[420,.6],[428,.9],[435,.4],[440,1.8],[425,1.2],[438,.9],[445,-.85],[455,-.85],[470,-1.55],[465,2.8],[480,.6],[490,.3],[495,.5],[500,-.5],[512,-.55],[520,.9],[535,1.0],[545,.55],[560,.9],[575,.7],[532,2.1],[548,.9],[550,-.65],[565,-1.1],[572,-.7],[605,1.7],[610,1.2],[612,.75],[612,-.55],[620,-.9],[640,.7],[655,.6],[670,.75],[690,.9],[705,.9],[720,.85],[665,-.55],[690,-.55],[660,-1.05],[690,-2.0],[705,-1.55],[730,-2.5],[735,-2.6],[735,.9],[750,.7],[770,.85],[780,1.85],[782,.4],[770,-.55],[790,-.65],[812,-.95],[800,-1.6],[815,-1.9],[820,1.0],[840,.85],[855,.65],[880,.85],[895,1.5],[905,.3],[925,.6],[945,.4],[925,-.6],[945,-.55],[955,-1.35],[955,-1.5],[925,-2.05],[975,1.1],[990,1.75],[1005,1.25],[1015,.85],[1025,.7],[1040,1.55],[1045,1.2],[1045,.8],[1050,.5],[1010,-.8],[1020,-1.15],[1030,-.7],[1035,-1.35],[1045,-2.35],[1048,-.85],[1060,.75],[1080,.7],[1095,.95],[1110,.7],[1122,.5],[1135,.85],[1155,1.6],[1160,.9],[1085,-.6],[1108,-1.3],[1130,-1.85],[1160,-.65],[1170,-1.55],[1180,-2.6],[1195,.7],[1210,.9],[1225,.95],[1245,2.1],[1252,1.8],[1265,.9],[1240,-.5],[1262,-1.4]]
const mc981Tail = [[1272,-2.6],[1276,-7.4],[1280,-9.0]]

const mc475Upper = [3.6,3.0,2.6,3.6,3.5,2.8,3.0,2.9,2.8,2.9,3.1,2.8,2.9,2.8,2.8,2.9,2.8,3.0,3.2,2.9,3.2,2.9,2.7,2.8,2.8,3.0,2.9,2.8,2.9,2.8,3.0,2.7,2.6,2.5,2.5,2.9,2.8,2.8,2.9,3.1,3.0,3.2,3.5,3.3,3.1,3.4,3.2,3.2,3.2,2.9,2.9,2.4]
const mc475Lower = [-3.4,-3.2,-2.2,-3.0,-2.9,-2.9,-2.8,-2.8,-2.8,-2.7,-3.0,-2.9,-3.0,-3.0,-2.9,-3.0,-2.9,-3.1,-3.4,-3.5,-3.3,-3.1,-2.9,-3.0,-2.9,-2.9,-2.5,-2.9,-2.9,-2.9,-2.9,-3.0,-2.9,-3.0,-2.9,-2.2,-3.1,-3.2,-3.1,-3.4,-3.1,-3.1,-3.2,-3.0,-3.1,-3.0,-3.0,-3.1,-3.0,-2.8,-2.7,-2.2]
const mc475HaloUp = [4.0,3.7,3.4,3.3,3.4,3.3,3.2,3.2,3.3,3.6,3.5,3.2,3.3,3.2,3.3,3.2,3.0,3.1,3.3,3.6,3.5,3.8,3.9,3.7,3.6,3.3,2.9]
const mc475HaloLow = [-4.7,-4.0,-4.2,-4.2,-4.3,-4.4,-4.2,-4.2,-4.5,-4.6,-4.2,-4.4,-4.3,-4.2,-4.2,-4.2,-4.2,-4.3,-4.3,-4.7,-4.4,-4.9,-4.9,-4.7,-4.4,-4.1,-3.4]
const mc475Seg = [0.0,-0.2,-0.3,-0.2,0.0,0.15,-0.3,-0.3,-0.35,-0.3,-0.2,-0.4,-0.35,-0.3,-0.35,-0.3,-0.35,-0.3,0.05,-0.2,-0.3,-0.25,-0.1,-0.3,-0.05,0.1,-0.3,-0.35,-0.1,-0.2,0.0,-0.3,-0.3,-0.35,-0.2,-0.1,-0.25,-0.3,0.0,-0.3,-0.2,0.1,-0.3,-0.35,-0.3,-0.3,0.1,0.0,-0.25,-0.3,-0.35,-0.3]
const mc475Faint = [[5,6.1],[30,5.0],[70,5.3],[135,5.7],[215,4.8],[330,5.2],[305,4.2],[385,4.2],[490,5.0],[530,7.9],[515,4.8],[640,4.6],[815,4.6],[1040,4.5],[970,5.0],[1045,4.8],[1000,4.2],[10,-6.2],[55,-5.7],[60,-7.0],[135,-6.6],[145,-6.2],[135,-7.8],[218,-7.2],[305,-7.0],[368,-7.2],[378,-8.0],[438,-9.0],[440,-9.5],[440,-8.3],[470,-6.3],[510,-5.5],[605,-5.2],[620,-5.8],[700,-9.2],[660,-6.0],[750,-5.7],[830,-8.6],[925,-7.9],[925,-8.3],[1000,-6.0],[1245,-6.2],[1290,1.5]]
const mc475Orange = [[5,2.1],[5,.9],[10,.75],[15,1.0],[18,.6],[12,.4],[25,-.45],[35,-.45],[45,-.45],[48,-1.8],[55,-1.95],[38,1.8],[50,1.5],[58,1.3],[62,.9],[70,.7],[80,.5],[88,1.0],[95,2.1],[95,.55],[95,-1.3],[108,.6],[125,1.85],[130,.9],[145,1.0],[155,1.3],[165,1.3],[178,1.0],[118,-.65],[135,-.75],[145,-.7],[135,-1.3],[155,-.65],[170,-.55],[190,-.7],[185,2.0],[195,.65],[210,.8],[215,1.85],[220,.4],[205,-.6],[215,-.7],[225,-.5],[240,.9],[245,-.8],[265,.75],[270,.5],[262,-1.2],[272,-.7],[295,1.1],[302,.9],[315,1.2],[330,.85],[298,2.4],[322,2.4],[305,-.8],[302,-1.55],[345,-1.35],[352,.85],[362,-.4],[375,-.4],[370,2.0],[372,1.8],[390,-.4],[402,1.1],[410,1.3],[412,.55],[412,.4],[415,-.4],[425,.6],[440,.65],[420,-.4],[445,-.8],[455,-.9],[465,-1.05],[475,-.95],[470,-2.0],[478,-.95],[470,-1.2],[500,1.0],[515,.7],[530,1.15],[545,.9],[552,1.45],[560,.7],[505,-.5],[525,-.55],[545,-.9],[552,-1.2],[570,-.9],[580,-.55],[575,-1.1],[578,-2.3],[600,-1.85],[605,-2.7],[610,-1.55],[590,.3],[605,.4],[618,1.1],[625,.45],[640,.5],[655,.9],[665,1.2],[670,.7],[650,-.3],[650,-1.3],[635,-.5],[688,.6],[700,.85],[712,1.3],[730,1.1],[740,.9],[750,.6],[692,-1.65],[732,-2.2],[750,-.55],[770,-.55],[775,.6],[785,.7],[790,.6],[800,.95],[818,1.0],[835,.85],[780,1.8],[800,-.55],[820,-.5],[805,-1.5],[845,.9],[855,.55],[875,.65],[875,-.55],[885,.5],[905,.45],[922,.6],[945,.5],[925,-.55],[945,-.55],[935,1.3],[940,-.9],[955,.7],[985,.85],[1000,1.5],[1010,1.0],[1020,.7],[1035,1.0],[1045,.8],[1050,1.2],[1000,-.55],[1012,-.85],[1030,-.65],[1045,-.7],[1048,-1.0],[1065,.85],[1080,.7],[1095,1.5],[1105,.9],[1120,.6],[1130,1.3],[1112,-1.3],[1130,-.9],[1095,-.55],[1150,.5],[1160,.9],[1175,.6],[1190,-2.2],[1190,-2.0],[1192,.9],[1205,1.05],[1220,.9],[1240,1.5],[1252,1.8],[1265,.9],[1250,-1.45],[1165,-1.4],[1175,-1.5]]
const mc475Tail = [[1275,-2.2],[1278,-6.5],[1281,-8.2]]

const panelTitles = ['MC603','MC763','MC754','MC909','MC367','MC863','MC981','MC475']
const panelUpper = [mc603Upper,mc763Upper,mc754Upper,mc909Upper,mc367Upper,mc863Upper,mc981Upper,mc475Upper]
const panelLower = [mc603Lower,mc763Lower,mc754Lower,mc909Lower,mc367Lower,mc863Lower,mc981Lower,mc475Lower]
const panelHaloUp = [mc603HaloUp,mc763HaloUp,mc754HaloUp,mc909HaloUp,mc367HaloUp,mc863HaloUp,mc981HaloUp,mc475HaloUp]
const panelHaloLow = [mc603HaloLow,mc763HaloLow,mc754HaloLow,mc909HaloLow,mc367HaloLow,mc863HaloLow,mc981HaloLow,mc475HaloLow]
const panelSeg = [mc603Seg,mc763Seg,mc754Seg,mc909Seg,mc367Seg,mc863Seg,mc981Seg,mc475Seg]
const panelFaint = [mc603Faint,mc763Faint,mc754Faint,mc909Faint,mc367Faint,mc863Faint,mc981Faint,mc475Faint]
const panelOrange = [mc603Orange,mc763Orange,mc754Orange,mc909Orange,mc367Orange,mc863Orange,mc981Orange,mc475Orange]
const panelTail = [mc603Tail,mc763Tail,mc754Tail,mc909Tail,mc367Tail,mc863Tail,mc981Tail,mc475Tail]

// page layout, left/top/right/bottom of each plot box plus title centre
const boxes = [
  { l: 56.7, t: 44.3, r: 490, b: 366.7, tx: 265, ty: 17 },
  { l: 557.3, t: 44.3, r: 992, b: 366.7, tx: 778, ty: 19 },
  { l: 1060, t: 44.3, r: 1494, b: 366.7, tx: 1279, ty: 15 },
  { l: 1563.7, t: 44.3, r: 1998, b: 366.7, tx: 1777, ty: 20 },
  { l: 56.7, t: 489, r: 490, b: 811, tx: 280, ty: 467 },
  { l: 557.3, t: 489, r: 992, b: 811, tx: 775, ty: 467 },
  { l: 1060.7, t: 489, r: 1495, b: 811, tx: 1280, ty: 462 },
  { l: 1570.3, t: 489, r: 2004.7, b: 811, tx: 1780, ty: 467 }
]

const chromMids = chromEnds.map((end, i) => (end + (i ? chromEnds[i - 1] : 0)) / 2)
const zip = (xs, ys) => xs.map((x, i) => [x, ys[i]])
const tickFont = 'DejaVu Sans'

// halo fades away from the band towards its outer edge
const fade = stops => ({ type: 'linear', x: 0, y: 0, x2: 0, y2: 1, colorStops: stops })
const haloUpFill = fade([{ offset: 0, color: '#f6f6f6' }, { offset: 0.2, color: '#d4d4d4' }, { offset: 1, color: '#c4c4c4' }])
const haloLowFill = fade([{ offset: 0, color: '#c4c4c4' }, { offset: 0.65, color: '#cfcfcf' }, { offset: 1, color: '#f6f6f6' }])

function createChartOption() {
  const option = { animation: false, backgroundColor: '#fff', title: [], grid: [], xAxis: [], yAxis: [], series: [] }
  boxes.forEach((box, p) => {
    option.title.push({
      text: panelTitles[p],
      left: box.tx,
      top: box.ty,
      textAlign: 'center',
      textVerticalAlign: 'middle',
      textStyle: { fontFamily: 'Liberation Sans', fontWeight: 'bold', fontSize: 22.5, color: '#111' }
    })
    option.grid.push({
      left: box.l,
      top: box.t,
      width: box.r - box.l,
      height: box.b - box.t,
      show: true,
      borderColor: '#8c8c8c',
      borderWidth: 1.6
    })
    option.xAxis.push({
      gridIndex: p,
      type: 'value',
      min: 0,
      max: 1300,
      splitLine: { show: false },
      axisLine: { show: false },
      axisTick: { show: false },
      axisLabel: {
        customValues: chromMids,
        formatter: v => chromNames[chromMids.indexOf(v)],
        rotate: 58,
        align: 'center',
        verticalAlign: 'middle',
        margin: 16,
        fontFamily: tickFont,
        fontSize: 10,
        color: '#333'
      }
    })
    option.yAxis.push({
      gridIndex: p,
      type: 'value',
      min: yTicks[0],
      max: yTicks[yTicks.length - 1],
      interval: 2.5,
      name: 'Copy ratio (log2)',
      nameLocation: 'middle',
      nameGap: 42,
      nameTextStyle: { fontFamily: tickFont, fontSize: 13, color: '#222' },
      splitLine: { show: false },
      axisLine: { show: false },
      axisTick: { show: true, length: 3, lineStyle: { color: '#555', width: 1 } },
      axisLabel: {
        margin: 6,
        fontFamily: tickFont,
        fontSize: 10.5,
        color: '#222',
        formatter: v => v.toFixed(1).replace('-', '\u2212')
      }
    })
    const area = (data, color, z) => ({
      type: 'line',
      xAxisIndex: p,
      yAxisIndex: p,
      data,
      z,
      silent: true,
      showSymbol: false,
      lineStyle: { width: 0 },
      areaStyle: { color, opacity: 1, origin: 0 }
    })
    const dots = (data, color, size, opacity, z) => ({
      type: 'scatter',
      xAxisIndex: p,
      yAxisIndex: p,
      data,
      z,
      silent: true,
      symbolSize: size,
      itemStyle: { color, opacity }
    })
    option.series.push(
      area(zip(haloX, panelHaloUp[p]), haloUpFill, 1),
      area(zip(haloX, panelHaloLow[p]), haloLowFill, 1),
      dots(panelFaint[p], '#c0c0c0', 4, 0.8, 2),
      {
        type: 'line',
        xAxisIndex: p,
        yAxisIndex: p,
        data: panelTail[p],
        z: 2,
        silent: true,
        showSymbol: false,
        lineStyle: { width: 4, color: 'rgba(130,130,130,0.45)' }
      },
      area(zip(binX, panelUpper[p]), '#757575', 3),
      area(zip(binX, panelLower[p]), '#757575', 3),
      {
        type: 'line',
        xAxisIndex: p,
        yAxisIndex: p,
        data: [],
        z: 4,
        silent: true,
        markLine: {
          silent: true,
          symbol: 'none',
          label: { show: false },
          lineStyle: { color: '#0c0c0c', width: 2, type: 'solid' },
          data: chromEnds.slice(0, -1).map(v => ({ xAxis: v })).concat([{ yAxis: 0 }])
        }
      },
      {
        type: 'line',
        xAxisIndex: p,
        yAxisIndex: p,
        data: zip(binX, panelSeg[p]),
        z: 5,
        silent: true,
        showSymbol: false,
        lineStyle: { width: 3.5, color: '#b3bbc1' }
      },
      dots(panelOrange[p], '#fb981a', 5.5, 1, 6)
    )
  })
  return option
}

const myChart = echarts.init(document.getElementById('chart'), null, { renderer: 'canvas' })
myChart.setOption(createChartOption())
</script>
</body>
</html>
